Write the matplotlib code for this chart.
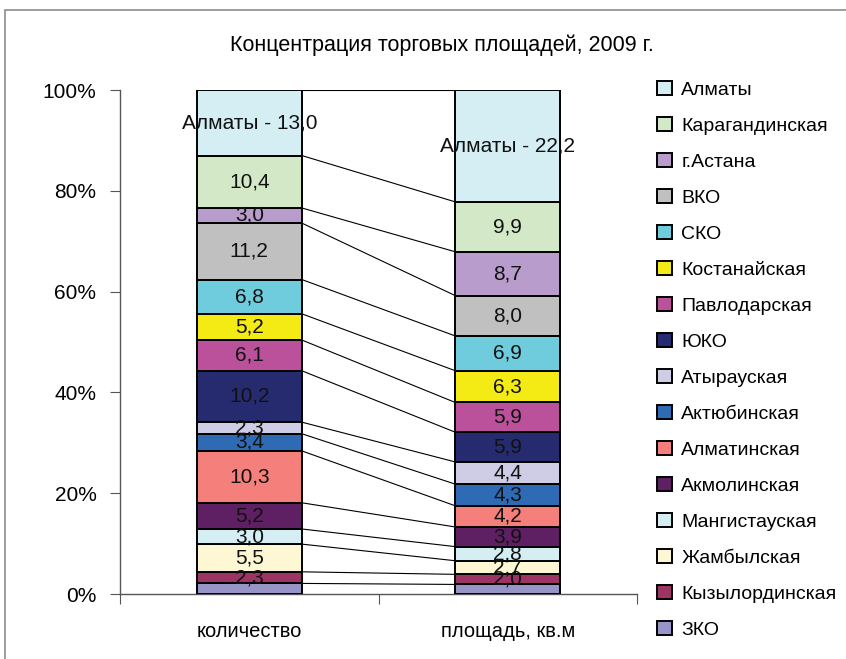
import matplotlib
matplotlib.use("Agg")
import matplotlib.pyplot as plt
from matplotlib.patches import Rectangle
import numpy as np

plt.rcParams['font.family'] = ['Liberation Sans', 'DejaVu Sans']

title = "Концентрация торговых площадей, 2009 г."
categories = ["количество", "площадь, кв.м"]

# series from bottom to top of the stack
regions = ["ЗКО", "Кызылординская", "Жамбылская", "Мангистауская", "Акмолинская",
           "Алматинская", "Актюбинская", "Атырауская", "ЮКО", "Павлодарская",
           "Костанайская", "СКО", "ВКО", "г.Астана", "Карагандинская", "Алматы"]
count_vals = [2.1, 2.3, 5.5, 3.0, 5.2, 10.3, 3.4, 2.3, 10.2, 6.1, 5.2, 6.8, 11.2, 3.0, 10.4, 13.0]
area_vals = [1.9, 2.0, 2.7, 2.8, 3.9, 4.2, 4.3, 4.4, 5.9, 5.9, 6.3, 6.9, 8.0, 8.7, 9.9, 22.2]
colors = ["#9795C8", "#9C3563", "#FDF8D3", "#D4EEF4", "#5F1F63", "#F47F7B", "#2F6BB5",
          "#CFCCE6", "#262B70", "#BB519B", "#F5EB14", "#6ECCDD", "#C0C0C0", "#B89CCB",
          "#D3E8C7", "#D4EEF4"]
show_label = [False] + [True] * 15
yticks = [0, 20, 40, 60, 80, 100]
ytick_labels = ["0%", "20%", "40%", "60%", "80%", "100%"]

fig = plt.figure(figsize=(8.46, 6.59), dpi=100)
# outer chart border
fig.patches.append(Rectangle((5 / 846, -0.01), 1.0, (659 - 10) / 659 + 0.01,
                             transform=fig.transFigure, fill=False,
                             edgecolor="#8c8c8c", linewidth=1.2))

ax = fig.add_axes([120 / 846, (659 - 594) / 659, (637 - 120) / 846, (594 - 90) / 659])

data = np.array([count_vals, area_vals])  # shape (2, 16)
totals = data.sum(axis=1)
pct = data / totals[:, None] * 100
x = np.arange(len(categories))
w = 0.406
bottoms = np.zeros(2)
handles = []
for i, name in enumerate(regions):
    h = ax.bar(x, pct[:, i], w, bottom=bottoms, color=colors[i], edgecolor="black",
               linewidth=1.4, label=name, zorder=3)
    handles.append(h)
    tops = bottoms + pct[:, i]
    # series line
    ax.plot([x[0] + w / 2, x[1] - w / 2], [tops[0], tops[1]], color="black", lw=0.8, zorder=2)
    if show_label[i]:
        for j in range(2):
            v = data[j, i]
            txt = f"{v:.1f}".replace(".", ",")
            if name == "Алматы":
                txt = f"Алматы - {txt}"
            yc = bottoms[j] + pct[j, i] / 2
            ax.text(x[j], yc, txt, ha="center", va="center", fontsize=15,
                    color="#111111", zorder=5)
    bottoms = tops

ax.set_xlim(-0.5, 1.5)
ax.set_ylim(0, 100)
ax.set_yticks(yticks)
ax.set_yticklabels(ytick_labels, fontsize=15)
ax.set_xticks([-0.5, 0.5, 1.5])
ax.set_xticklabels([])
ax.set_xticks(x, minor=True)
ax.set_xticklabels(categories, minor=True, fontsize=14.5)
ax.tick_params(axis="x", which="minor", length=0, pad=20)
ax.tick_params(axis="x", which="major", direction="out", length=7, color="#555555")
ax.tick_params(axis="y", direction="out", length=7, color="#555555", pad=10)
for s in ["top", "right"]:
    ax.spines[s].set_visible(False)
for s in ["left", "bottom"]:
    ax.spines[s].set_color("#555555")
    ax.spines[s].set_linewidth(1.0)
ax.spines["bottom"].set_zorder(1)

fig.text(442 / 846, (659 - 45) / 659, title, ha="center", va="center", fontsize=15.5)

leg = fig.legend(handles[::-1], regions[::-1], loc="upper left",
                 bbox_to_anchor=(657 / 846, (659 - 81) / 659), frameon=False,
                 fontsize=14, handlelength=0.75, handleheight=0.75,
                 handletextpad=0.5, labelspacing=0.93, borderaxespad=0, borderpad=0)

fig.savefig("out.png", dpi=100)
